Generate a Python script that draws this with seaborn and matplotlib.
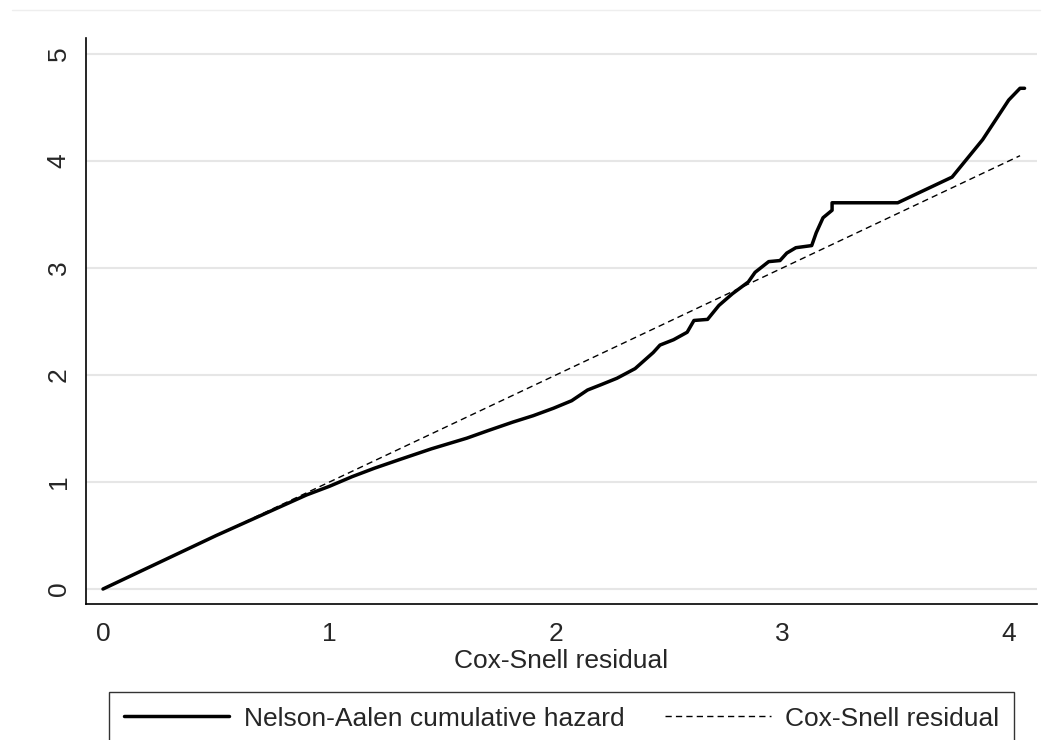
import numpy as np
import pandas as pd
import seaborn as sns
import matplotlib.pyplot as plt
from matplotlib.lines import Line2D

# Nelson-Aalen cumulative hazard of the Cox-Snell residuals
csr_x = [0, 0.1, 0.3, 0.5, 0.7, 0.9, 1.0, 1.1, 1.2, 1.31, 1.45, 1.607, 1.7, 1.81,
         1.9, 1.99, 2.07, 2.14, 2.2, 2.27, 2.35, 2.43, 2.46, 2.52, 2.58, 2.61,
         2.67, 2.72, 2.78, 2.85, 2.88, 2.94, 2.99, 3.02, 3.06, 3.13, 3.15, 3.18,
         3.22, 3.22, 3.51, 3.75, 3.885, 4.00, 4.05, 4.07]
na_y = [0, 0.1, 0.3, 0.5, 0.69, 0.88, 0.96, 1.05, 1.13, 1.21, 1.31, 1.41, 1.48, 1.56,
        1.62, 1.69, 1.76, 1.86, 1.91, 1.97, 2.06, 2.21, 2.28, 2.33, 2.40, 2.51,
        2.52, 2.65, 2.76, 2.87, 2.96, 3.06, 3.07, 3.14, 3.19, 3.21, 3.33, 3.47,
        3.54, 3.61, 3.61, 3.85, 4.20, 4.57, 4.68, 4.68]

# 45 degree reference line
ref_x = [0, 4.05]
ref_y = [0, 4.05]

x_ticks = [0, 1, 2, 3, 4]
y_ticks = [0, 1, 2, 3, 4, 5]

sns.set_style("white")
plt.rcParams['font.family'] = ['Liberation Sans', 'DejaVu Sans']

fig = plt.figure(figsize=(10.5, 7.4), dpi=100)
ax = fig.add_axes([86/1050, 1-604/740, (1037-86)/1050, (604-38)/740])

na = pd.DataFrame({'x': csr_x, 'y': na_y})
ref = pd.DataFrame({'x': ref_x, 'y': ref_y})

sns.lineplot(data=na, x='x', y='y', ax=ax, color='black', linewidth=2.5,
             sort=False, estimator=None, label='Nelson-Aalen cumulative hazard')
sns.lineplot(data=ref, x='x', y='y', ax=ax, color='black', linewidth=1.0,
             sort=False, estimator=None, label='Cox-Snell residual')
ax.lines[1].set_dashes([4.5, 3])

ax.set_xlim(-0.075, 4.125)
ax.set_ylim(-0.14, 5.15)
ax.set_xticks(x_ticks)
ax.set_yticks(y_ticks)
ax.set_xticklabels([str(t) for t in x_ticks], fontsize=19)
ax.set_yticklabels([str(t) for t in y_ticks], fontsize=19, rotation=90, va='center')
ax.tick_params(axis='both', direction='out', length=8, width=1.2, color='#555555')
ax.tick_params(axis='x', pad=5)
ax.tick_params(axis='y', pad=3)

ax.yaxis.grid(True, color='#e6e6e6', linewidth=1.5)
ax.xaxis.grid(False)
ax.set_axisbelow(True)
for s in ['top', 'right']:
    ax.spines[s].set_visible(False)
for s in ['left', 'bottom']:
    ax.spines[s].set_color('black')
    ax.spines[s].set_linewidth(1.2)

ax.set_xlabel('Cox-Snell residual', fontsize=19, labelpad=2)
ax.set_ylabel('')

handles, labels = ax.get_legend_handles_labels()
ax.get_legend().remove()
leg = fig.legend(handles, labels, loc='upper center', ncol=2, mode='expand',
                 bbox_to_anchor=(109/1050, 0, (1014-109)/1050, 1-692/740),
                 fontsize=19, frameon=True, fancybox=False, borderpad=0.55,
                 handlelength=4.0, handletextpad=0.55, columnspacing=1.7,
                 borderaxespad=0)
leg.get_frame().set_edgecolor('black')
leg.get_frame().set_linewidth(1.0)

# faint border line at the top of the graph region
fig.add_artist(Line2D([12/1050, 1040/1050], [1-10/740, 1-10/740],
                      color='#eeeeee', linewidth=1.0))

fig.savefig('out.png', dpi=100, facecolor='white')
